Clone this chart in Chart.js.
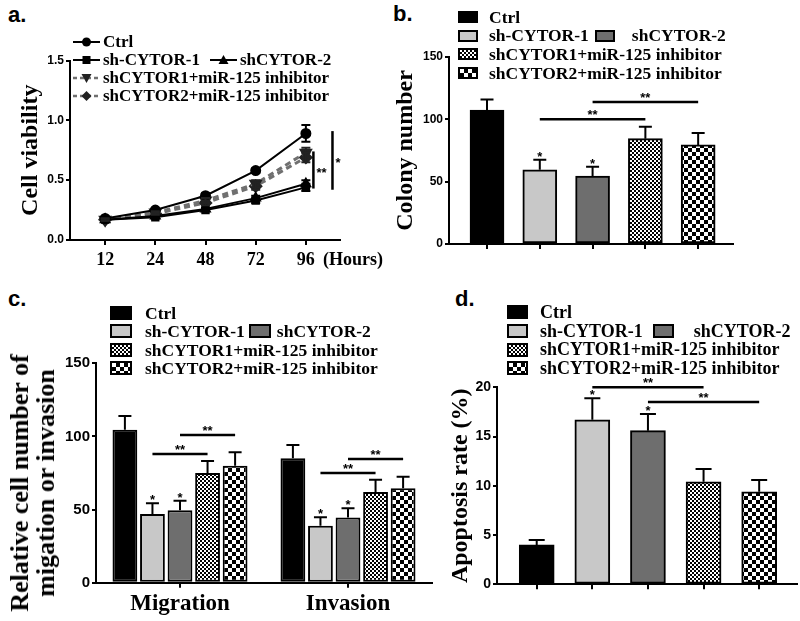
<!DOCTYPE html>
<html lang="en">
<head>
<meta charset="UTF-8">
<title>CYTOR knockdown and miR-125 inhibitor</title>
<script src="https://cdn.jsdelivr.net/npm/chart.js"></script>
<style>
  html, body { margin: 0; padding: 0; background: #fff; }
  body {
    position: relative;
    width: 800px;
    height: 621px;
    overflow: hidden;
    font-family: "Liberation Serif", "Times New Roman", serif;
    color: #000;
  }
  canvas { position: absolute; }
  .tag {
    position: absolute;
    font: bold 22px "Liberation Sans", Arial, sans-serif;
    line-height: 1;
  }
  .legend { position: absolute; font-weight: bold; white-space: nowrap; }
  .legend .row { display: flex; align-items: center; }
  .sw { display: inline-block; box-sizing: border-box; border: 2px solid #000; flex: none; }
  .sw0 { background: #000; }
  .sw1 { background: #c8c8c8; }
  .sw2 { background: #6e6e6e; }
  .sw3 { background: repeating-conic-gradient(#000 0 25%, #fff 0 50%) 0 0 / 4px 4px; }
  .sw4 { background: repeating-conic-gradient(#000 0 25%, #fff 0 50%) 0 0 / 8px 8px; }
  .ytitle {
    position: absolute;
    font-weight: bold;
    white-space: nowrap;
    text-align: center;
  }
  .hours {
    position: absolute;
    font: bold 18px "Liberation Serif", serif;
    line-height: 1;
  }
</style>
</head>
<body>
  <div class="tag" style="left:8px; top:4px;">a.</div>
  <div class="tag" style="left:393px; top:3px;">b.</div>
  <div class="tag" style="left:8px; top:288px;">c.</div>
  <div class="tag" style="left:455px; top:288px;">d.</div>

  <canvas id="chartA" width="400" height="280" style="left:0; top:0;"></canvas>
  <canvas id="chartB" width="420" height="280" style="left:380px; top:0;"></canvas>
  <canvas id="chartC" width="440" height="341" style="left:0; top:280px;"></canvas>
  <canvas id="chartD" width="360" height="341" style="left:440px; top:280px;"></canvas>

  <div class="hours" style="left:323px; top:250px;">(Hours)</div>
  <div class="ytitle" style="left:33px; top:483px; font-size:26px; line-height:26px; transform: translate(-50%, -50%) rotate(-90deg);">
    Relative cell number of<br>migation or invasion
  </div>

<script>
  Chart.defaults.font.family = '"Liberation Sans", Arial, sans-serif';
  Chart.defaults.color = '#000';
  Chart.defaults.animation = false;

  const seriesNames = ['Ctrl', 'sh-CYTOR-1', 'shCYTOR-2', 'shCYTOR1+miR-125 inhibitor', 'shCYTOR2+miR-125 inhibitor'];

  // a. cell viability
  const hours = ['12', '24', '48', '72', '96'];
  const viabCtrl = [0.18, 0.25, 0.37, 0.58, 0.89];
  const viabSh1 = [0.17, 0.19, 0.25, 0.33, 0.44];
  const viabSh2 = [0.17, 0.20, 0.26, 0.35, 0.47];
  const viabInh1 = [0.17, 0.23, 0.33, 0.47, 0.73];
  const viabInh2 = [0.17, 0.22, 0.31, 0.45, 0.69];
  const viabErrCtrl = [0.01, 0.01, 0.02, 0.02, 0.07];
  const viabErrSh1 = [0.01, 0.01, 0.01, 0.02, 0.03];
  const viabErrSh2 = [0.01, 0.01, 0.01, 0.02, 0.03];
  const viabErrInh1 = [0.01, 0.01, 0.02, 0.03, 0.04];
  const viabErrInh2 = [0.01, 0.01, 0.02, 0.03, 0.04];
  const viabTicks = [0, 0.5, 1.0, 1.5];
  const viabSig = [
    { x: 4.15, y0: 0.43, y1: 0.74, text: '**' },
    { x: 4.53, y0: 0.42, y1: 0.91, text: '*' }
  ];

  // b. colony number
  const colony = [107.5, 59.5, 54.5, 84.5, 79.5];
  const colonyErr = [8.5, 8, 7.5, 9.5, 9.5];
  const colonyTicks = [0, 50, 100, 150];
  const colonySig = [
    { from: [0, 1], to: [0, 3], y: 100, text: '**' },
    { from: [0, 2], to: [0, 4], y: 114, text: '**' }
  ];
  const colonyStars = [[0, 1], [0, 2]];

  // c. migration / invasion
  const groupsC = ['Migration', 'Invasion'];
  const migration = [104.5, 47, 49.5, 75, 80];
  const migrationErr = [9.5, 7.3, 6.5, 8.2, 9.2];
  const invasion = [85, 39, 44.5, 62, 64.5];
  const invasionErr = [9.2, 5.8, 6.4, 8.4, 8];
  const cellTicks = [0, 50, 100, 150];
  const cellSig = [
    { from: [1, 0], to: [3, 0], y: 88, text: '**' },
    { from: [2, 0], to: [4, 0], y: 101, text: '**' },
    { from: [1, 1], to: [3, 1], y: 75, text: '**' },
    { from: [2, 1], to: [4, 1], y: 84.5, text: '**' }
  ];
  const cellStars = [[1, 0], [2, 0], [1, 1], [2, 1]];

  // d. apoptosis
  const apoptosis = [4.0, 16.7, 15.6, 10.4, 9.4];
  const apoptosisErr = [0.5, 2.2, 1.7, 1.3, 1.2];
  const apoptosisTicks = [0, 5, 10, 15, 20];
  const apoptosisSig = [
    { from: [0, 1], to: [0, 3], y: 20, text: '**' },
    { from: [0, 2], to: [0, 4], y: 18.5, text: '**' }
  ];
  const apoptosisStars = [[0, 1], [0, 2]];

  const blanks = ['', '', '', '', ''];

  // fills
  function checker(cell) {
    const c = document.createElement('canvas');
    c.width = c.height = cell * 2;
    const g = c.getContext('2d');
    g.fillStyle = '#fff';
    g.fillRect(0, 0, cell * 2, cell * 2);
    g.fillStyle = '#000';
    g.fillRect(0, 0, cell, cell);
    g.fillRect(cell, cell, cell, cell);
    return g.createPattern(c, 'repeat');
  }
  const fills = ['#000', '#c8c8c8', '#6e6e6e', checker(2), checker(4)];

  const val = raw => (typeof raw === 'object' ? raw.y : raw);

  const errorBars = {
    id: 'errorBars',
    afterDatasetsDraw(chart, args, o) {
      const ctx = chart.ctx, ys = chart.scales.y;
      ctx.save();
      ctx.lineWidth = o.width || 2;
      chart.data.datasets.forEach((ds, di) => {
        if (!ds.errors) return;
        chart.getDatasetMeta(di).data.forEach((el, i) => {
          const v = val(ds.data[i]), e = ds.errors[i];
          const top = ys.getPixelForValue(v + e);
          const bot = o.both ? ys.getPixelForValue(v - e) : el.y;
          const half = o.cap / 2;
          ctx.strokeStyle = ds.errorColor || '#000';
          ctx.beginPath();
          ctx.moveTo(el.x, bot);
          ctx.lineTo(el.x, top);
          ctx.moveTo(el.x - half, top);
          ctx.lineTo(el.x + half, top);
          if (o.both) {
            ctx.moveTo(el.x - half, bot);
            ctx.lineTo(el.x + half, bot);
          }
          ctx.stroke();
        });
      });
      ctx.restore();
    }
  };

  const sigMarks = {
    id: 'sigMarks',
    afterDraw(chart, args, o) {
      const ctx = chart.ctx, xs = chart.scales.x, ys = chart.scales.y;
      const barX = ([d, i]) => chart.getDatasetMeta(d).data[i].x;
      const errTop = ([d, i]) => {
        const ds = chart.data.datasets[d];
        return ys.getPixelForValue(val(ds.data[i]) + ds.errors[i]);
      };
      ctx.save();
      ctx.strokeStyle = '#000';
      ctx.fillStyle = '#000';
      ctx.lineWidth = 2.5;
      ctx.font = 'bold ' + (o.size || 13) + 'px "Liberation Sans", Arial, sans-serif';
      ctx.textAlign = 'center';
      ctx.textBaseline = 'alphabetic';
      (o.brackets || []).forEach(b => {
        const x0 = barX(b.from), x1 = barX(b.to), y = ys.getPixelForValue(b.y);
        ctx.beginPath();
        ctx.moveTo(x0, y);
        ctx.lineTo(x1, y);
        ctx.stroke();
        ctx.fillText(b.text, (x0 + x1) / 2, y);
      });
      (o.stars || []).forEach(s => ctx.fillText('*', barX(s), errTop(s) + 1));
      (o.vertical || []).forEach(v => {
        const x = xs.getPixelForValue(v.x);
        const y0 = ys.getPixelForValue(v.y0), y1 = ys.getPixelForValue(v.y1);
        ctx.beginPath();
        ctx.moveTo(x, y0);
        ctx.lineTo(x, y1);
        ctx.stroke();
        ctx.textAlign = 'left';
        ctx.fillText(v.text, x + 3, (y0 + y1) / 2 + 7);
      });
      ctx.restore();
    }
  };

  function yAxis(ticks, width, size, fmt, title) {
    return {
      min: ticks[0],
      max: ticks[ticks.length - 1],
      afterFit: s => { s.width = width; },
      afterBuildTicks: s => { s.ticks = ticks.map(v => ({ value: v })); },
      ticks: { font: { size: size, weight: 'bold' }, padding: 2, callback: fmt },
      grid: { drawOnChartArea: false, color: '#000', lineWidth: 2, tickLength: 4 },
      border: { color: '#000', width: 2 },
      title: title
        ? { display: true, text: title, color: '#000', font: { family: '"Liberation Serif", serif', size: 24, weight: 'bold' } }
        : { display: false }
    };
  }

  function indexAxis(min, max, height, labels, font, pad) {
    return {
      type: 'linear',
      min: min,
      max: max,
      offset: false,
      afterFit: s => { s.height = height; },
      afterBuildTicks: s => { s.ticks = labels.map((_, i) => ({ value: i })); },
      ticks: { autoSkip: false, maxRotation: 0, padding: pad, font: font, callback: v => labels[v] },
      grid: { offset: false, drawOnChartArea: false, color: '#000', lineWidth: 2, tickLength: 5 },
      border: { color: '#000', width: 2 }
    };
  }

  const serifBold = size => ({ family: '"Liberation Serif", serif', size: size, weight: 'bold' });

  // ---- a. line chart ----
  const viabSeries = [viabCtrl, viabSh1, viabSh2, viabInh1, viabInh2];
  const viabErrs = [viabErrCtrl, viabErrSh1, viabErrSh2, viabErrInh1, viabErrInh2];
  const lineLook = [
    { pointStyle: 'circle', pointRadius: 4.5 },
    { pointStyle: 'rect', pointRadius: 4.5 },
    { pointStyle: 'triangle', pointRadius: 5 },
    { pointStyle: 'triangle', pointRadius: 5, rotation: 180, dashed: true },
    { pointStyle: 'rectRot', pointRadius: 5, dashed: true }
  ];

  new Chart(document.getElementById('chartA'), {
    type: 'line',
    data: {
      datasets: viabSeries.map((s, k) => ({
        label: seriesNames[k],
        data: s.map((v, i) => ({ x: i, y: v })),
        errors: viabErrs[k],
        errorColor: lineLook[k].dashed ? '#222' : '#000',
        borderColor: lineLook[k].dashed ? '#707070' : '#000',
        borderWidth: lineLook[k].dashed ? 3 : 2,
        borderDash: lineLook[k].dashed ? [6, 4] : [],
        pointStyle: lineLook[k].pointStyle,
        pointRadius: lineLook[k].pointRadius,
        pointRotation: lineLook[k].rotation || 0,
        pointBackgroundColor: lineLook[k].dashed ? '#222' : '#000',
        pointBorderColor: lineLook[k].dashed ? '#222' : '#000',
        tension: 0
      }))
    },
    options: {
      responsive: false,
      layout: { padding: { left: 12.6, top: 60.5, right: 60, bottom: 0 } },
      plugins: {
        legend: { display: false },
        tooltip: { enabled: false },
        errorBars: { both: true, cap: 9, width: 2 },
        sigMarks: { vertical: viabSig, size: 13 }
      },
      scales: {
        x: indexAxis(-0.70, 4.68, 40, hours, serifBold(18), 5),
        y: yAxis(viabTicks, 57.4, 12, v => v.toFixed(1), 'Cell viability')
      }
    },
    plugins: [errorBars, sigMarks]
  });

  // ---- b. colony number ----
  new Chart(document.getElementById('chartB'), {
    type: 'bar',
    data: {
      datasets: [{
        data: colony.map((v, i) => ({ x: i, y: v })),
        errors: colonyErr,
        backgroundColor: fills,
        borderColor: '#000',
        borderWidth: 2,
        borderSkipped: false,
        barThickness: 34
      }]
    },
    options: {
      responsive: false,
      layout: { padding: { left: 7.6, top: 57, right: 67, bottom: 0 } },
      plugins: {
        legend: { display: false },
        tooltip: { enabled: false },
        errorBars: { cap: 13, width: 2 },
        sigMarks: { brackets: colonySig, stars: colonyStars, size: 13 }
      },
      scales: {
        x: indexAxis(-0.72, 4.66, 36, blanks, { size: 12 }, 2),
        y: yAxis(colonyTicks, 61.4, 12, v => v, 'Colony number')
      }
    },
    plugins: [errorBars, sigMarks]
  });

  // ---- c. migration / invasion ----
  new Chart(document.getElementById('chartC'), {
    type: 'bar',
    data: {
      labels: groupsC,
      datasets: seriesNames.map((n, k) => ({
        label: n,
        data: [migration[k], invasion[k]],
        errors: [migrationErr[k], invasionErr[k]],
        backgroundColor: fills[k],
        borderColor: '#000',
        borderWidth: 2,
        borderSkipped: false,
        categoryPercentage: 0.82,
        barPercentage: 0.9
      }))
    },
    options: {
      responsive: false,
      layout: { padding: { left: 0, top: 83.3, right: 8, bottom: 0 } },
      plugins: {
        legend: { display: false },
        tooltip: { enabled: false },
        errorBars: { cap: 13, width: 2 },
        sigMarks: { brackets: cellSig, stars: cellStars, size: 13 }
      },
      scales: {
        x: {
          afterFit: s => { s.height = 38.3; },
          ticks: { font: serifBold(23), padding: 3, maxRotation: 0 },
          grid: { offset: false, drawOnChartArea: false, color: '#000', lineWidth: 2, tickLength: 5 },
          border: { color: '#000', width: 2 }
        },
        y: yAxis(cellTicks, 96, 15, v => v, null)
      }
    },
    plugins: [errorBars, sigMarks]
  });

  // ---- d. apoptosis ----
  new Chart(document.getElementById('chartD'), {
    type: 'bar',
    data: {
      datasets: [{
        data: apoptosis.map((v, i) => ({ x: i, y: v })),
        errors: apoptosisErr,
        backgroundColor: fills,
        borderColor: '#000',
        borderWidth: 2,
        borderSkipped: false,
        barThickness: 35
      }]
    },
    options: {
      responsive: false,
      layout: { padding: { left: 2.6, top: 107.3, right: 3, bottom: 0 } },
      plugins: {
        legend: { display: false },
        tooltip: { enabled: false },
        errorBars: { cap: 16, width: 2 },
        sigMarks: { brackets: apoptosisSig, stars: apoptosisStars, size: 13 }
      },
      scales: {
        x: indexAxis(-0.714, 4.68, 36.7, blanks, { size: 12 }, 2),
        y: yAxis(apoptosisTicks, 54.4, 14, v => v, 'Apoptosis rate (%)')
      }
    },
    plugins: [errorBars, sigMarks]
  });

  // ---- legends ----
  const legendRows = [[0], [1, 2], [3], [4]];

  function boxSwatch(w, h) {
    return k => {
      const s = document.createElement('span');
      s.className = 'sw sw' + k;
      s.style.width = w + 'px';
      s.style.height = h + 'px';
      return s;
    };
  }

  function lineSwatch(k) {
    const dashed = k >= 3;
    const col = dashed ? '#707070' : '#000';
    const mk = dashed ? '#222' : '#000';
    const shapes = [
      '<circle cx="13.5" cy="7" r="4.5" fill="' + mk + '"/>',
      '<rect x="9.5" y="3" width="8" height="8" fill="' + mk + '"/>',
      '<polygon points="13.5,2 18.5,11 8.5,11" fill="' + mk + '"/>',
      '<polygon points="13.5,12 18.5,3 8.5,3" fill="' + mk + '"/>',
      '<polygon points="13.5,2 18.5,7 13.5,12 8.5,7" fill="' + mk + '"/>'
    ];
    const s = document.createElement('span');
    s.style.display = 'inline-flex';
    s.innerHTML = '<svg width="27" height="14" viewBox="0 0 27 14">' +
      '<line x1="0" y1="7" x2="27" y2="7" stroke="' + col + '" stroke-width="' + (dashed ? 2.5 : 2) + '"' +
      (dashed ? ' stroke-dasharray="4 3"' : '') + '/>' + shapes[k] + '</svg>';
    return s;
  }

  function legend(o) {
    const box = document.createElement('div');
    box.className = 'legend';
    box.style.left = o.x + 'px';
    box.style.top = o.y + 'px';
    box.style.fontSize = o.size + 'px';
    legendRows.forEach(row => {
      const r = document.createElement('div');
      r.className = 'row';
      r.style.height = o.rowH + 'px';
      r.style.lineHeight = o.rowH + 'px';
      row.forEach((k, n) => {
        const sw = o.swatch(k);
        if (n > 0) sw.style.marginLeft = o.gap2 + 'px';
        r.appendChild(sw);
        const t = document.createElement('span');
        t.textContent = seriesNames[k];
        t.style.marginLeft = o.gap1[n] + 'px';
        r.appendChild(t);
      });
      box.appendChild(r);
    });
    document.body.appendChild(box);
  }

  legend({ x: 73, y: 33, size: 17, rowH: 18, swatch: lineSwatch, gap1: [3, 3], gap2: 10 });
  legend({ x: 458, y: 7.6, size: 17.5, rowH: 18.7, swatch: boxSwatch(20, 12), gap1: [11, 17], gap2: 6 });
  legend({ x: 110, y: 304, size: 17.5, rowH: 18.3, swatch: boxSwatch(22, 14), gap1: [13, 6], gap2: 4 });
  legend({ x: 507, y: 303, size: 18, rowH: 18.7, swatch: boxSwatch(21, 14), gap1: [12, 20], gap2: 10 });
</script>
</body>
</html>
